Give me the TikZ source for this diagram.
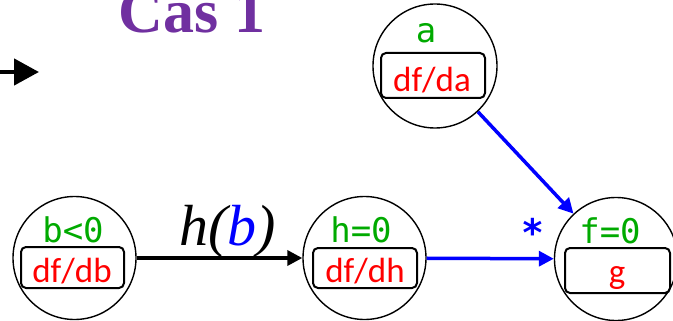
\documentclass[tikz,border=0pt]{standalone}
\usepackage{fontspec}
\setmainfont{Liberation Serif}
\newfontfamily\monof{DejaVu Sans Mono}
\newfontfamily\calib{Carlito}
\usetikzlibrary{arrows.meta}
\definecolor{mygreen}{RGB}{0,170,0}
\definecolor{mypurple}{RGB}{112,48,160}
\begin{document}
\begin{tikzpicture}[x=1pt,y=-1pt,
  vcirc/.style={draw, circle, line width=1.4pt, minimum size=123pt, inner sep=0pt},
  vbox/.style={draw, rounded corners=5pt, line width=2pt, inner sep=0pt},
  gtxt/.style={anchor=base, text=mygreen, font=\monof\fontsize{34}{34}\selectfont},
  rtxt/.style={anchor=base, text=red, font=\calib\fontsize{35}{35}\selectfont},
  blk/.style={line width=3.5pt, -{Triangle[length=15pt,width=15pt]}},
  blu/.style={draw=blue, line width=3.5pt, -{Triangle[length=15pt,width=15pt]}}]
\useasboundingbox (0,0) rectangle (673,321);
% title
\node[anchor=base, text=mypurple, font=\bfseries\fontsize{62}{62}\selectfont] (title) at (192,33) {Cas 1};
% left arrow
\coordinate (la) at (-2,72);
\coordinate (lb) at (39,72);
\draw[line width=4.5pt, -{Triangle[length=25pt,width=26pt]}] (la) -- (lb);
% circles
\node[vcirc] (bc) at (74.5,258) {};
\node[vcirc] (hc) at (364.5,258) {};
\node[vcirc] (fc) at (616,259) {};
\node[vcirc, minimum size=124pt] (ac) at (435,66) {};
% boxes
\node[vbox, minimum width=103pt, minimum height=41pt] (bb) at (72.5,267.5) {};
\node[vbox, minimum width=104pt, minimum height=40pt] (hb) at (365,268) {};
\node[vbox, minimum width=105pt, minimum height=45pt] (fb) at (617.5,270.5) {};
\node[vbox, minimum width=104pt, minimum height=45pt] (ab) at (433,75.5) {};
% texts
\node[gtxt] (bt) at (73,242) {b<0};
\node[rtxt] (br) at (72,282) {df/db};
\node[gtxt] (ht) at (361,242) {h=0};
\node[rtxt] (hr) at (365,282) {df/dh};
\node[gtxt] (ft) at (610,243) {f=0};
\node[rtxt] (fr) at (617,283) {g};
\node[gtxt] (at) at (426,43) {a};
\node[rtxt] (ar) at (432,92) {df/da};
% connectors
\draw[blk] (bc) -- (hc);
\node[anchor=base, font=\itshape\fontsize{58}{58}\selectfont] (hlab) at (227.5,245) {h(\textcolor{blue}{b})};
\draw[blu] (hc) -- (fc);
\draw[blu] (ac) -- (fc);
\node[text=blue, font=\monof\bfseries\fontsize{38}{38}\selectfont] (star) at (533,232) {*};
\end{tikzpicture}
\end{document}
